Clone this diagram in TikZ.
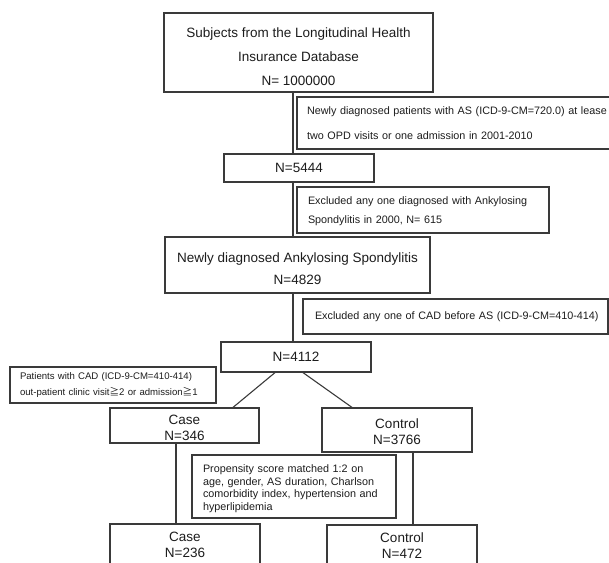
\documentclass[tikz,border=0pt]{standalone}
\usepackage{fontspec}
\setmainfont{Liberation Sans}
\newfontfamily\cjkfont{Noto Sans CJK SC}
\usetikzlibrary{calc}
\definecolor{FlowLine}{HTML}{3A3A3A}
\definecolor{FlowText}{HTML}{1C1C1C}
\tikzset{
  flow box/.style={
    draw=FlowLine,
    line width=1.2pt,
    text=FlowText,
    align=center,
    inner sep=0pt,
    font=\fontsize{13.5}{16}\selectfont
  },
  flow note/.style={
    draw=FlowLine,
    line width=1.2pt,
    text=FlowText,
    align=left,
    inner xsep=10pt,
    inner ysep=0pt,
    font=\fontsize{10.8}{12.7}\selectfont
  },
  flow link/.style={draw=FlowLine,line width=1.1pt}
}
\newcommand{\geqq}{{\cjkfont ≧}}
\newcommand{\padtop}[1]{\rule{0pt}{#1}}

\begin{document}
\begin{tikzpicture}[x=1pt,y=-1pt]
  \useasboundingbox (0,0) rectangle (609,562);
  \clip (0,0) rectangle (609,562);

  % main column
  \node[flow box,minimum width=269pt,minimum height=79pt,font=\fontsize{13.5}{24}\selectfont] (subjects) at (298.5,52.5)
    {\padtop{18pt}Subjects from the Longitudinal Health\\Insurance Database\\N= 1000000};
  \node[flow note,text width=305pt,minimum height=52pt,font=\fontsize{10.8}{24.5}\selectfont] (newdiag) at (459.5,123)
    {Newly diagnosed patients with AS (ICD-9-CM=720.0) at lease\\two OPD visits or one admission in 2001-2010};
  \node[flow box,minimum width=150pt,minimum height=28pt] (n5444) at (299,168) {N=5444};
  \node[flow note,inner xsep=11pt,text width=230pt,minimum height=46pt,font=\fontsize{10.8}{19}\selectfont] (excl2000) at (423,210)
    {\padtop{11pt}Excluded any one diagnosed with Ankylosing\\Spondylitis in 2000, N= 615};
  \node[flow box,minimum width=265pt,minimum height=56pt,font=\fontsize{13.5}{22}\selectfont] (ankylo) at (297.5,265)
    {\padtop{18pt}Newly diagnosed Ankylosing Spondylitis\\N=4829};
  \node[flow note,inner xsep=8pt,text width=289pt,minimum height=35pt] (exclcad) at (455.5,316.5)
    {\hspace{4pt}Excluded any one of CAD before AS (ICD-9-CM=410-414)};
  \node[flow box,minimum width=150pt,minimum height=30pt] (n4112) at (296,357) {N=4112};

  % split
  \node[flow note,text width=186pt,minimum height=36pt,font=\fontsize{9.6}{16}\selectfont] (cad) at (113,385)
    {Patients with CAD (ICD-9-CM=410-414)\\out-patient clinic visit\geqq2 or admission\geqq1};
  \node[flow box,minimum width=149pt,minimum height=35pt] (case) at (184.5,425.5) {\padtop{15pt}Case\\N=346};
  \node[flow box,minimum width=150pt,minimum height=44pt] (control) at (397,430) {\padtop{14pt}Control\\N=3766};
  \node[flow note,inner xsep=11pt,text width=182pt,minimum height=63pt] (propensity) at (294,486.5)
    {\padtop{12pt}Propensity score matched 1:2 on\\age, gender, AS duration, Charlson\\comorbidity index, hypertension and\\hyperlipidemia};
  \node[flow box,minimum width=150pt,minimum height=42pt] (case2) at (185,545) {Case\\N=236};
  \node[flow box,minimum width=150pt,minimum height=42pt] (control2) at (402,546) {Control\\N=472};

  \coordinate (spine) at (293,0);
  \coordinate (caseline) at (176,0);
  \coordinate (ctrlline) at (413,0);

  \draw[flow link] (subjects.south -| spine) -- (n5444.north -| spine);
  \draw[flow link] (n5444.south -| spine) -- (ankylo.north -| spine);
  \draw[flow link] (ankylo.south -| spine) -- (n4112.north -| spine);
  \draw[flow link] ([xshift=-21pt]n4112.south) -- ([xshift=48.5pt]case.north);
  \draw[flow link] ([xshift=7pt]n4112.south) -- ([xshift=-45pt]control.north);
  \draw[flow link] (case.south -| caseline) -- (case2.north -| caseline);
  \draw[flow link] (control.south -| ctrlline) -- (control2.north -| ctrlline);
\end{tikzpicture}
\end{document}
